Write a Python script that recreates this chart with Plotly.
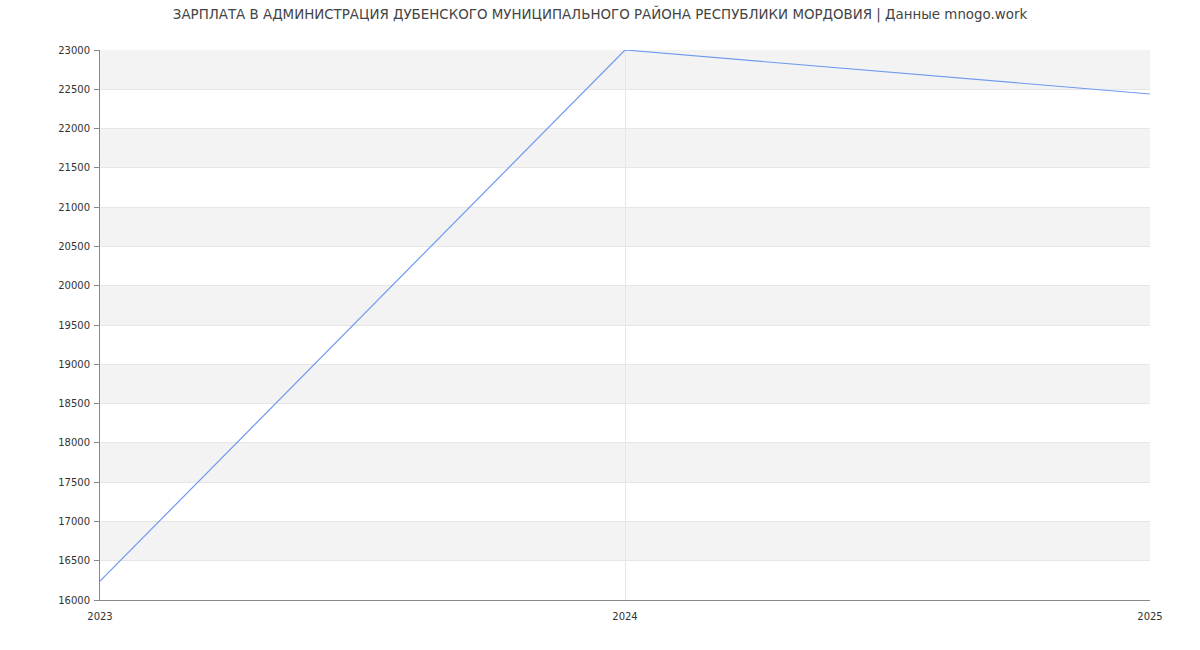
import plotly.graph_objects as go

years = [2023, 2024, 2025]
salary = [16240, 23000, 22440]
y_ticks = list(range(16000, 23001, 500))
x_ticks = [2023, 2024, 2025]
title = "ЗАРПЛАТА В АДМИНИСТРАЦИЯ ДУБЕНСКОГО МУНИЦИПАЛЬНОГО РАЙОНА РЕСПУБЛИКИ МОРДОВИЯ | Данные mnogo.work"

fig = go.Figure()
fig.add_trace(go.Scatter(x=years, y=salary, mode="lines",
                         line=dict(color="#6f9af0", width=1.2), hoverinfo="x+y"))

shapes = []
for i in range(len(y_ticks) - 1):
    if i % 2 == 1:
        shapes.append(dict(type="rect", xref="paper", yref="y", x0=0, x1=1,
                           y0=y_ticks[i], y1=y_ticks[i + 1],
                           fillcolor="#f3f3f3", line=dict(width=0), layer="below"))

fig.update_layout(
    width=1200, height=650,
    margin=dict(l=100, r=50, t=50, b=50),
    paper_bgcolor="white", plot_bgcolor="white",
    showlegend=False,
    shapes=shapes,
    title=dict(text=title, x=0.5, xanchor="center", y=0.985, yanchor="top",
               font=dict(family="DejaVu Sans", size=13.4, color="#444")),
    font=dict(family="DejaVu Sans", size=10, color="#333"),
    xaxis=dict(range=[2023, 2025], tickvals=x_ticks, ticktext=[str(v) for v in x_ticks],
               showgrid=True, gridcolor="#e6e6e6", gridwidth=1,
               showline=True, linecolor="#888", linewidth=1,
               ticks="outside", ticklen=7, tickcolor="rgba(0,0,0,0)",
               zeroline=False, fixedrange=True),
    yaxis=dict(range=[16000, 23000], tickvals=y_ticks, ticktext=[str(v) for v in y_ticks],
               showgrid=True, gridcolor="#e6e6e6", gridwidth=1,
               showline=True, linecolor="#888", linewidth=1,
               ticks="outside", ticklen=5, tickcolor="#888", ticklabelstandoff=2,
               zeroline=False, fixedrange=True),
)

fig.write_html("out.html")
